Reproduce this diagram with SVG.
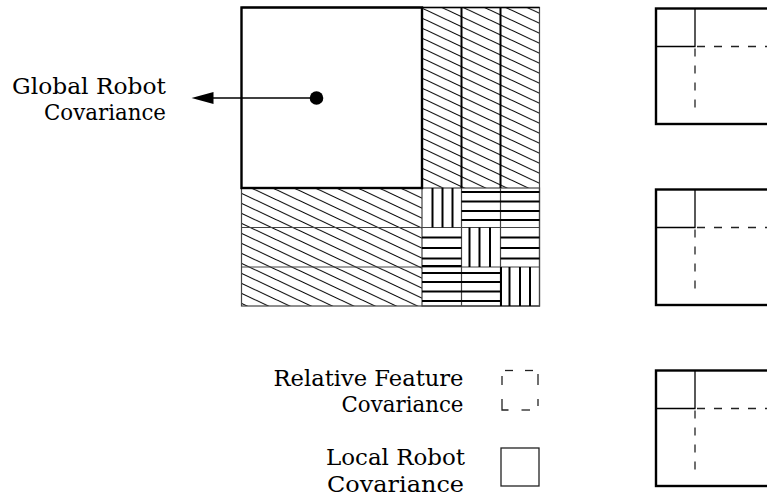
<svg xmlns="http://www.w3.org/2000/svg" width="767" height="499" viewBox="0 0 767 499">
  <style>
    .lbl { font-family: "DejaVu Serif", serif; font-size: 22px; fill: #000; text-anchor: end; }
    .grid { fill: none; stroke: #444; stroke-width: 1.2; }
    .thick { fill: none; stroke: #000; stroke-width: 2.4; }
    .hatch { stroke: #000; stroke-width: 2; }
    .inner { stroke: #000; stroke-width: 1.3; fill: none; }
    .dash { stroke: #222; stroke-width: 1.3; fill: none; stroke-dasharray: 8 9; }
    .legdash { stroke: #222; stroke-width: 1.3; fill: none; }
  </style>
  <defs>
    <!-- diagonal "\" hatching, 10px vertical pitch -->
    <pattern id="diag" patternUnits="userSpaceOnUse" width="21.3" height="10">
      <path d="M-4.26,-2 L25.56,12 M-4.26,8 L4.26,12 M17.04,-2 L25.56,2" stroke="#000" stroke-width="1.1" fill="none"/>
    </pattern>
  </defs>

  <!-- main covariance matrix -->
  <g id="matrix">
    <!-- hatched cross-covariance columns and rows -->
    <rect x="422" y="7.5" width="117.5" height="180.5" fill="url(#diag)"/>
    <rect x="241.5" y="188" width="180.5" height="118" fill="url(#diag)"/>
    <rect x="422" y="7.5" width="117.5" height="298.5" class="grid"/>
    <rect x="241.5" y="188" width="298" height="118" class="grid"/>
    <line x1="241.5" y1="227.5" x2="539.5" y2="227.5" class="grid"/>
    <line x1="241.5" y1="267" x2="539.5" y2="267" class="grid"/>
    <line x1="461.5" y1="188" x2="461.5" y2="306" class="grid"/>
    <line x1="500.5" y1="188" x2="500.5" y2="306" class="grid"/>
    <line x1="461.5" y1="7.5" x2="461.5" y2="188" stroke="#000" stroke-width="2"/>
    <line x1="500.5" y1="7.5" x2="500.5" y2="188" stroke="#000" stroke-width="2"/>

    <!-- feature blocks: vertical stripes on the diagonal -->
    <g class="hatch">
      <line x1="432.5" y1="188" x2="432.5" y2="227.5"/>
      <line x1="442.5" y1="188" x2="442.5" y2="227.5"/>
      <line x1="452.5" y1="188" x2="452.5" y2="227.5"/>
      <line x1="469.5" y1="227.5" x2="469.5" y2="267"/>
      <line x1="479.5" y1="227.5" x2="479.5" y2="267"/>
      <line x1="490" y1="227.5" x2="490" y2="267"/>
      <line x1="501" y1="267" x2="501" y2="306"/>
      <line x1="509.5" y1="267" x2="509.5" y2="306"/>
      <line x1="520" y1="267" x2="520" y2="306"/>
      <line x1="530" y1="267" x2="530" y2="306"/>
    </g>
    <!-- feature blocks: horizontal stripes off the diagonal -->
    <g class="hatch">
      <line x1="461.5" y1="192" x2="539.5" y2="192"/>
      <line x1="461.5" y1="201.5" x2="539.5" y2="201.5"/>
      <line x1="461.5" y1="211" x2="539.5" y2="211"/>
      <line x1="461.5" y1="220" x2="539.5" y2="220"/>

      <line x1="422" y1="237.5" x2="461.5" y2="237.5"/>
      <line x1="422" y1="248" x2="461.5" y2="248"/>
      <line x1="422" y1="258.5" x2="461.5" y2="258.5"/>
      <line x1="422" y1="266" x2="461.5" y2="266"/>
      <line x1="500.5" y1="237.5" x2="539.5" y2="237.5"/>
      <line x1="500.5" y1="248" x2="539.5" y2="248"/>
      <line x1="500.5" y1="258.5" x2="539.5" y2="258.5"/>

      <line x1="422" y1="273" x2="500.5" y2="273"/>
      <line x1="422" y1="282" x2="500.5" y2="282"/>
      <line x1="422" y1="291.5" x2="500.5" y2="291.5"/>
      <line x1="422" y1="301" x2="500.5" y2="301"/>
    </g>

    <!-- global robot block -->
    <rect x="241.5" y="7.5" width="180.5" height="180.5" fill="#fff" class="thick"/>
    <line x1="241.5" y1="7.5" x2="539.5" y2="7.5" stroke="#000" stroke-width="1.6"/>
  </g>

  <!-- pointer from the robot block to its label -->
  <g id="connectors">
    <line x1="316.5" y1="98" x2="210" y2="98" stroke="#000" stroke-width="1.3"/>
    <path d="M191.5,98 L213.5,92 L213.5,104 Z" fill="#000"/>
    <circle cx="316.5" cy="98" r="6.8" fill="#000"/>
  </g>

  <g id="label-global">
    <text class="lbl" x="166" y="94" textLength="154" lengthAdjust="spacingAndGlyphs">Global Robot</text>
    <text class="lbl" x="166" y="120" textLength="122" lengthAdjust="spacingAndGlyphs">Covariance</text>
  </g>

  <!-- legend -->
  <g id="legend-relative">
    <text class="lbl" x="463.5" y="386" textLength="190" lengthAdjust="spacingAndGlyphs">Relative Feature</text>
    <text class="lbl" x="463.5" y="412" textLength="122" lengthAdjust="spacingAndGlyphs">Covariance</text>
    <g class="legdash">
      <line x1="505" y1="370.5" x2="513" y2="370.5"/>
      <line x1="525" y1="370.5" x2="533" y2="370.5"/>
      <line x1="538" y1="374" x2="538" y2="385"/>
      <line x1="538" y1="399" x2="538" y2="406"/>
      <line x1="502" y1="376" x2="502" y2="385"/>
      <path d="M502,399 L502,410 L508.5,410"/>
      <line x1="521.5" y1="410" x2="530" y2="410"/>
    </g>
  </g>
  <g id="legend-local">
    <text class="lbl" x="465" y="465" textLength="139" lengthAdjust="spacingAndGlyphs">Local Robot</text>
    <text class="lbl" x="464" y="492" textLength="137" lengthAdjust="spacingAndGlyphs">Covariance</text>
    <rect x="501" y="448" width="38" height="38" fill="none" stroke="#222" stroke-width="1.3"/>
  </g>

  <!-- local submap matrices -->
  <g id="submap-1">
    <rect x="656" y="8.5" width="130" height="115.5" class="thick"/>
    <path d="M695,8.5 L695,46.5 L656,46.5" class="inner"/>
    <line x1="695" y1="46.5" x2="767" y2="46.5" class="dash" stroke-dashoffset="-2"/>
    <line x1="695" y1="46.5" x2="695" y2="113" class="dash" stroke-dashoffset="-2"/>
  </g>
  <g id="submap-2">
    <rect x="656" y="189.5" width="130" height="115.5" class="thick"/>
    <path d="M695,189.5 L695,227.5 L656,227.5" class="inner"/>
    <line x1="695" y1="227.5" x2="767" y2="227.5" class="dash" stroke-dashoffset="-2"/>
    <line x1="695" y1="227.5" x2="695" y2="294" class="dash" stroke-dashoffset="-2"/>
  </g>
  <g id="submap-3">
    <rect x="656" y="370.5" width="130" height="115.5" class="thick"/>
    <path d="M695,370.5 L695,408.5 L656,408.5" class="inner"/>
    <line x1="695" y1="408.5" x2="767" y2="408.5" class="dash" stroke-dashoffset="-2"/>
    <line x1="695" y1="408.5" x2="695" y2="475" class="dash" stroke-dashoffset="-2"/>
  </g>
</svg>
